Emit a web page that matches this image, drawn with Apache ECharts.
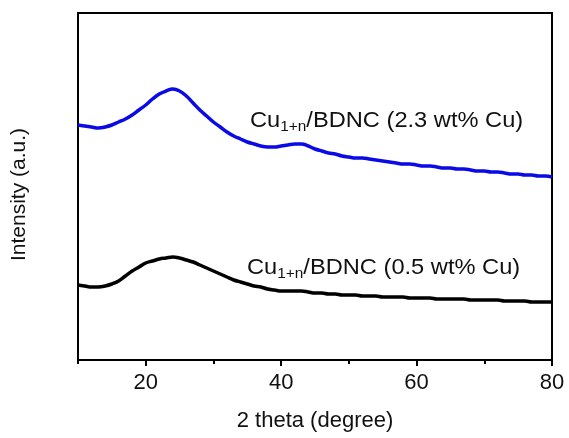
<!DOCTYPE html>
<html>
<head>
<meta charset="utf-8">
<script src="https://cdn.jsdelivr.net/npm/echarts@6/dist/echarts.min.js"></script>
<style>
    html, body { margin: 0; padding: 0; background: #fff; }
    #chart { width: 569px; height: 438px; }
</style>
</head>
<body>
<div id="chart"></div>
<script>
// 2 theta (degree)
var theta = [10, 11, 12, 13, 14, 15, 16, 17, 18, 19, 20, 21, 22, 23, 24, 25, 26, 27, 28, 29,
    30, 31, 32, 33, 34, 35, 36, 37, 38, 39, 40, 41, 42, 43, 44, 45, 46, 47, 48, 49,
    50, 51, 52, 53, 54, 55, 56, 57, 58, 59, 60, 61, 62, 63, 64, 65, 66, 67, 68, 69,
    70, 71, 72, 73, 74, 75, 76, 77, 78, 79, 80];

// Cu1+n/BDNC (2.3 wt% Cu), a.u.
var high = [235, 234, 233, 232, 233, 235, 238, 241, 245, 250, 255, 261, 266, 269, 271, 269, 264, 257, 250, 244,
    238, 233, 228, 224, 221, 218, 216, 214, 213, 213, 214, 215, 216, 216, 214, 211, 209, 207, 206, 204,
    203, 202, 202, 201, 200, 199, 198, 197, 196, 196, 195, 194, 194, 193, 192, 192, 191, 191, 190, 189,
    189, 188, 188, 187, 186, 186, 185, 185, 184, 184, 183];

// Cu1+n/BDNC (0.5 wt% Cu), a.u.
var low = [75, 74, 73, 73, 74, 76, 79, 84, 89, 93, 97, 99, 101, 102, 103, 102, 100, 98, 95, 92,
    89, 86, 83, 80, 78, 76, 74, 73, 71, 70, 69, 69, 69, 69, 68, 67, 67, 66, 66, 65,
    65, 65, 64, 64, 64, 63, 63, 63, 63, 62, 62, 62, 62, 61, 61, 61, 61, 61, 60, 60,
    60, 60, 60, 59, 59, 59, 59, 58, 58, 58, 58];

var majorTicks = [20, 40, 60, 80];
var minorTicks = [10, 30, 50, 70];

var FONT = 'Liberation Sans, Arial, sans-serif';

function pairs(xs, ys) {
    var out = [];
    for (var i = 0; i < xs.length; i++) {
        out.push([xs[i], ys[i]]);
    }
    return out;
}

function label(txt) {
    return '{a|Cu}{s|1+n}{a|/BDNC (' + txt + ')}';
}

var richStyle = {
    a: { fontSize: 21.5, fontFamily: FONT, fill: '#111', lineHeight: 26 },
    s: { fontSize: 14, fontFamily: FONT, fill: '#111', lineHeight: 26, padding: [13, 0, 0, 0] }
};

var chart = echarts.init(document.getElementById('chart'));

var option = {
    animation: false,
    grid: {
        left: 78, right: 17, top: 13, bottom: 78,
        show: true,
        borderColor: '#000',
        borderWidth: 2
    },
    xAxis: [{
        type: 'value',
        min: 10,
        max: 80,
        name: '2 theta (degree)',
        nameLocation: 'middle',
        nameGap: 50,
        nameTextStyle: { fontSize: 22, fontFamily: FONT, color: '#111' },
        axisLine: { lineStyle: { color: '#000', width: 2 } },
        axisTick: { show: true, length: 6, lineStyle: { color: '#000', width: 2 }, customValues: majorTicks },
        axisLabel: { fontSize: 22, fontFamily: FONT, color: '#111', margin: 12, customValues: majorTicks },
        splitLine: { show: false }
    }, {
        // short ticks in between
        type: 'value',
        min: 10,
        max: 80,
        position: 'bottom',
        axisLine: { show: false },
        axisTick: { show: true, length: 4, lineStyle: { color: '#000', width: 2 }, customValues: minorTicks },
        axisLabel: { show: false },
        splitLine: { show: false }
    }],
    yAxis: {
        type: 'value',
        min: 0,
        max: 347,
        name: 'Intensity (a.u.)',
        nameLocation: 'middle',
        nameGap: 48,
        nameTextStyle: { fontSize: 21, fontFamily: FONT, color: '#111', padding: [0, 16, 0, 0] },
        axisLine: { show: true, lineStyle: { color: '#000', width: 2 } },
        axisTick: { show: false },
        axisLabel: { show: false },
        splitLine: { show: false }
    },
    series: [{
        name: '2.3 wt% Cu',
        type: 'line',
        data: pairs(theta, high),
        showSymbol: false,
        smooth: 0.4,
        lineStyle: { color: '#0a0ae6', width: 3.5 }
    }, {
        name: '0.5 wt% Cu',
        type: 'line',
        data: pairs(theta, low),
        showSymbol: false,
        smooth: 0.4,
        lineStyle: { color: '#000', width: 3.5 }
    }],
    graphic: [{
        type: 'text',
        x: 250,
        y: 108,
        scaleX: 1.1,
        style: { text: label('2.3 wt% Cu'), rich: richStyle }
    }, {
        type: 'text',
        x: 247,
        y: 255,
        scaleX: 1.1,
        style: { text: label('0.5 wt% Cu'), rich: richStyle }
    }]
};

chart.setOption(option);
</script>
</body>
</html>
